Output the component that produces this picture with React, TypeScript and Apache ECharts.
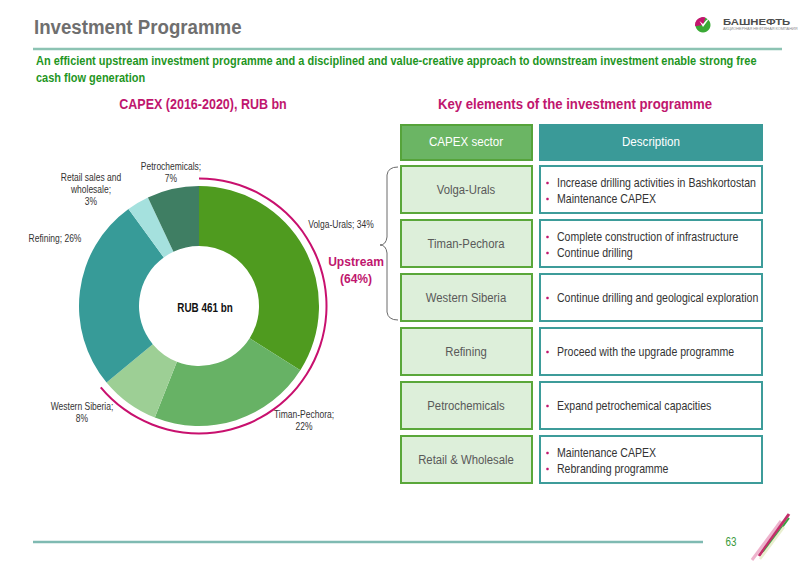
import React, { useEffect, useRef } from "react";
import * as echarts from "echarts";

const sliceNames = ["Volga-Urals", "Timan-Pechora", "Western Siberia", "Refining", "Retail sales and\nwholesale", "Petrochemicals"];
const sliceShares = [34, 22, 8, 26, 3, 7];
const sliceBreaks = [" ", "\n", "\n", " ", "\n", "\n"];
const sliceColors = ["#4f9b1f", "#67b265", "#9dcf95", "#379b98", "#a5e1de", "#3f7e63"];
const upstreamSlices = 3;
const totalCapex = 461;

const sectors = ["Volga-Urals", "Timan-Pechora", "Western Siberia", "Refining", "Petrochemicals", "Retail & Wholesale"];
const descriptions = [
  ["Increase drilling activities in Bashkortostan", "Maintenance CAPEX"],
  ["Complete construction of infrastructure", "Continue drilling"],
  ["Continue drilling and geological exploration"],
  ["Proceed with the upgrade programme"],
  ["Expand petrochemical capacities"],
  ["Maintenance CAPEX", "Rebranding programme"],
];

const SANS = "'Liberation Sans', Arial, sans-serif";

const labelPos = [
  [341, 225],
  [304, 421],
  [82, 413],
  [55, 239],
  [91, 190],
  [171, 173],
];

echarts.graphic.registerShape(
  "brace",
  (echarts.graphic as any).extendPath("M18 0 Q8 0 7 8 L7 70 Q6 78 0 78 Q6 78 7 86 L7 145 Q8 153 18 153", {})
);

function txt(
  x: number, y: number, text: string, size: number, fill: string,
  opts: { bold?: boolean; align?: string; va?: string; sx?: number; lh?: number } = {}
) {
  return {
    type: "text",
    x, y,
    scaleX: opts.sx ?? 1,
    silent: true,
    style: {
      text,
      font: `${opts.bold ? "bold " : ""}${size}px ${SANS}`,
      fill,
      align: opts.align ?? "left",
      verticalAlign: opts.va ?? "middle",
      lineHeight: opts.lh,
    },
  };
}

export default function App() {
  const ref = useRef<HTMLDivElement>(null);
  useEffect(() => {
    const chart = echarts.init(ref.current!, null, { renderer: "svg" });
    const upstream = sliceShares.slice(0, upstreamSlices).reduce((a, b) => a + b, 0);
    const total = sliceShares.reduce((a, b) => a + b, 0);
    const MAG = "#c0166e";

    const g: any[] = [];
    // header
    g.push(txt(34, 27, "Investment Programme", 21, "#6f6f6f", { bold: true, sx: 0.89 }));
    g.push({ type: "line", shape: { x1: 33, y1: 49, x2: 782, y2: 49 }, style: { stroke: "#8cc3b3", lineWidth: 2.5 } });
    g.push(txt(36, 61, "An efficient upstream investment programme and a disciplined and value-creative approach to downstream investment enable strong free", 12, "#1f961f", { bold: true, sx: 0.915 }));
    g.push(txt(36, 78, "cash flow generation", 12, "#1f961f", { bold: true, sx: 0.915 }));
    // logo
    g.push({ type: "circle", shape: { cx: 703, cy: 25, r: 7.5 }, style: { fill: "#3aa935" } });
    g.push({ type: "sector", shape: { cx: 703, cy: 25, r: 8, r0: 0, startAngle: Math.PI * 0.95, endAngle: Math.PI * 1.6 }, style: { fill: "#c4146f" } });
    g.push({ type: "polygon", shape: { points: [[699.5, 21], [703, 27], [710, 17.5], [706, 20.5], [703, 24]] }, style: { fill: "#ffffff" } });
    g.push(txt(723, 22, "БАШНЕФТЬ", 9, "#4d4d4d", { bold: true, sx: 1.26 }));
    g.push(txt(723, 29.5, "АКЦИОНЕРНАЯ НЕФТЯНАЯ КОМПАНИЯ", 3.5, "#8a8a8a", { sx: 1.1 }));

    // section titles
    g.push(txt(203, 104, "CAPEX (2016-2020), RUB bn", 15, MAG, { bold: true, align: "center", sx: 0.835 }));
    g.push(txt(575, 104, "Key elements of the investment programme", 14.5, MAG, { bold: true, align: "center", sx: 0.91 }));

    // donut centre
    g.push(txt(205, 307, `RUB ${totalCapex} bn`, 13, "#111", { bold: true, align: "center", sx: 0.76 }));

    // slice labels (from data)
    sliceNames.forEach((n, i) => {
      g.push(txt(labelPos[i][0], labelPos[i][1], `${n};${sliceBreaks[i]}${sliceShares[i]}%`, 10, "#333", { align: "center", sx: 0.85, lh: 12 }));
    });

    // upstream label
    g.push(txt(356, 270, `Upstream\n(${Math.round((upstream / total) * 100)}%)`, 13, MAG, { bold: true, align: "center", sx: 0.93, lh: 17 }));

    // brace
    g.push({ type: "brace", x: 380, y: 167, style: { stroke: "#6a6a6a", lineWidth: 1, fill: "none" } });

    // table header
    g.push({ type: "rect", shape: { x: 401, y: 125, width: 131, height: 35 }, style: { fill: "#6bb564", stroke: "#56a33a", lineWidth: 2 } });
    g.push(txt(466, 142, "CAPEX sector", 13.5, "#fff", { align: "center", sx: 0.86 }));
    g.push({ type: "rect", shape: { x: 539, y: 124, width: 224, height: 37 }, style: { fill: "#3a9a98" } });
    g.push(txt(651, 142, "Description", 13.5, "#fff", { align: "center", sx: 0.86 }));

    sectors.forEach((s, i) => {
      const y0 = 166 + i * 54;
      g.push({ type: "rect", shape: { x: 401, y: y0, width: 131, height: 47 }, style: { fill: "#ddefda", stroke: "#5aa73a", lineWidth: 2 } });
      g.push(txt(466, y0 + 24, s, 13.5, "#595959", { align: "center", sx: 0.84 }));
      g.push({ type: "rect", shape: { x: 540, y: y0, width: 222, height: 47 }, style: { fill: "#ffffff", stroke: "#3d9c9a", lineWidth: 2 } });
      const lines = descriptions[i];
      const ys = lines.length === 1 ? [y0 + 24] : [y0 + 17, y0 + 33];
      lines.forEach((t, k) => {
        g.push({ type: "circle", silent: true, shape: { cx: 547.5, cy: ys[k], r: 1.3 }, style: { fill: MAG } });
        g.push(txt(557, ys[k], t, 12, "#333", { sx: 0.88 }));
      });
    });

    // footer
    g.push({ type: "line", shape: { x1: 33, y1: 542, x2: 703, y2: 542 }, style: { stroke: "#7fbab2", lineWidth: 2.5 } });
    g.push(txt(731, 542, "63", 12, "#3a9a3a", { align: "center", sx: 0.82 }));
    g.push({ type: "line", shape: { x1: 752, y1: 560, x2: 781, y2: 521 }, style: { stroke: "#eeb3cd", lineWidth: 3 } });
    g.push({ type: "line", shape: { x1: 759, y1: 556, x2: 789, y2: 514 }, style: { stroke: "#c32f6b", lineWidth: 3 } });
    g.push({ type: "line", shape: { x1: 764, y1: 552, x2: 789, y2: 518 }, style: { stroke: "#3aa040", lineWidth: 2 } });
    g.push({ type: "line", shape: { x1: 760, y1: 559, x2: 784, y2: 527 }, style: { stroke: "#e9efcf", lineWidth: 2.5 } });

    chart.setOption({
      animation: false,
      backgroundColor: "#ffffff",
      textStyle: { fontFamily: SANS },
      series: [
        {
          type: "pie",
          center: [199, 306],
          radius: [60, 120],
          startAngle: 90,
          clockwise: true,
          silent: true,
          data: sliceNames.map((n, i) => ({ name: n, value: sliceShares[i], itemStyle: { color: sliceColors[i] } })),
          label: { show: false },
          labelLine: { show: false },
        },
        {
          type: "pie",
          center: [199, 306],
          radius: [126.5, 128.5],
          startAngle: 90,
          clockwise: true,
          silent: true,
          label: { show: false },
          labelLine: { show: false },
          data: [
            { name: "Upstream", value: upstream, itemStyle: { color: "#c8106e" } },
            { name: "Other", value: total - upstream, itemStyle: { color: "transparent" } },
          ],
        },
      ],
      graphic: g,
    });
    return () => chart.dispose();
  }, []);
  return <div ref={ref} style={{ position: "fixed", left: 0, top: 0, width: 800, height: 566 }} />;
}
